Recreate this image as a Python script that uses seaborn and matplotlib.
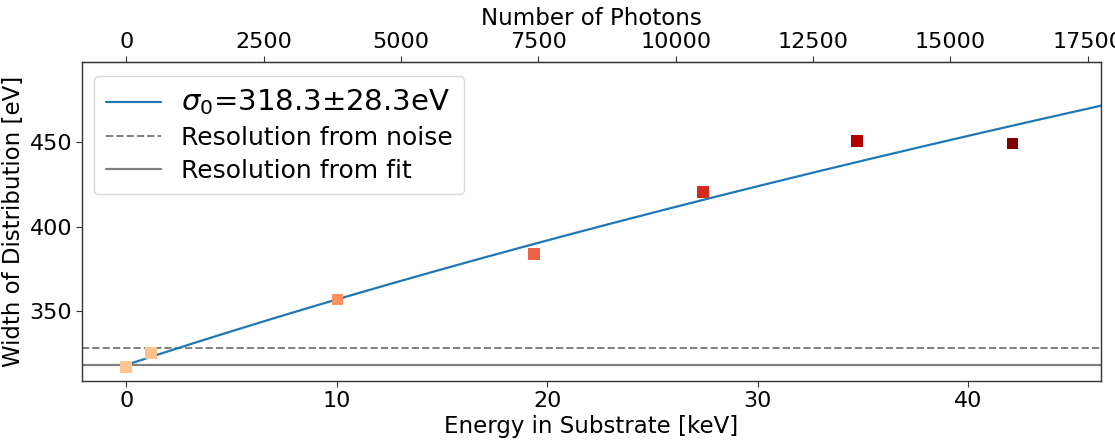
import numpy as np
import pandas as pd
import matplotlib
matplotlib.use("Agg")
import matplotlib.pyplot as plt
import seaborn as sns

# Measured widths of the energy distribution
energy_kev = [0.0, 1.17, 10.03, 19.38, 27.4, 34.7, 42.1]
width_ev = [317.0, 325.3, 356.9, 383.8, 420.4, 450.6, 449.2]

# Fit parameters: sigma(E) = sqrt(sigma0^2 + k * E)
sigma0_ev = 318.3
sigma0_err_ev = 28.3
k_ev2_per_kev = 2615.0

# Horizontal reference levels
noise_resolution_ev = 328.6
fit_resolution_ev = sigma0_ev

# Mean energy per photon used for the secondary axis
ev_per_photon = 2.61

photon_ticks = [0, 2500, 5000, 7500, 10000, 12500, 15000, 17500]
energy_ticks = [0, 10, 20, 30, 40]
width_ticks = [350, 400, 450]

sns.set_style("ticks")
plt.rcParams["font.family"] = ["DejaVu Sans"]
plt.rcParams.update({"text.color": "black", "axes.labelcolor": "black",
                     "xtick.color": "black", "ytick.color": "black"})

fig = plt.figure(figsize=(11.15, 4.4), dpi=100)
ax = fig.add_axes([0.0735, 0.134, 0.9139, 0.725])

x_min, x_max = -2.1, 46.3
y_min, y_max = 308.8, 497.4

# Fit curve
e_grid = np.linspace(0.0, x_max + 1.0, 200)
fit_df = pd.DataFrame({"E": e_grid,
                       "sigma": np.sqrt(sigma0_ev ** 2 + k_ev2_per_kev * e_grid)})
fit_label = r"$\sigma_0$=" + f"{sigma0_ev:.1f}" + r"$\pm$" + f"{sigma0_err_ev:.1f}eV"
sns.lineplot(data=fit_df, x="E", y="sigma", ax=ax, color="#1f77b4", lw=1.6,
             label=fit_label, zorder=3)

ax.axhline(noise_resolution_ev, color="#808080", ls="--", lw=1.4,
           label="Resolution from noise", zorder=2)
ax.axhline(fit_resolution_ev, color="#808080", ls="-", lw=1.6,
           label="Resolution from fit", zorder=2)

pts = pd.DataFrame({"E": energy_kev, "W": width_ev})
sns.scatterplot(data=pts, x="E", y="W", hue="E", palette="OrRd",
                hue_norm=(-20, 42), marker="s", s=70, linewidth=0,
                legend=False, ax=ax, zorder=4)

ax.set_xlim(x_min, x_max)
ax.set_ylim(y_min, y_max)
ax.set_xticks(energy_ticks)
ax.set_yticks(width_ticks)
ax.set_xlabel("Energy in Substrate [keV]", fontsize=16.5, labelpad=3)
ax.set_ylabel("Width of Distribution [eV]", fontsize=16.5, labelpad=3)
ax.tick_params(labelsize=16, length=4, color="#333333", pad=3)
for sp in ax.spines.values():
    sp.set_color("#333333")
    sp.set_linewidth(1.0)

# Secondary axis: photon count
secax = ax.secondary_xaxis(
    "top",
    functions=(lambda e: e * 1000.0 / ev_per_photon,
               lambda n: n * ev_per_photon / 1000.0))
secax.set_xticks(photon_ticks)
secax.set_xlabel("Number of Photons", fontsize=16.5, labelpad=5)
secax.tick_params(labelsize=16, length=4, color="#333333", pad=3)
secax.spines["top"].set_color("#333333")

leg = ax.legend(loc="upper left", fontsize=18, frameon=True,
                handlelength=2.2, borderpad=0.45, labelspacing=0.36,
                bbox_to_anchor=(0.0, 0.995))
leg.get_frame().set_edgecolor("#d0d0d0")
for txt in leg.get_texts():
    if "sigma" in txt.get_text():
        txt.set_fontsize(21)

fig.savefig("out.png", dpi=100)
